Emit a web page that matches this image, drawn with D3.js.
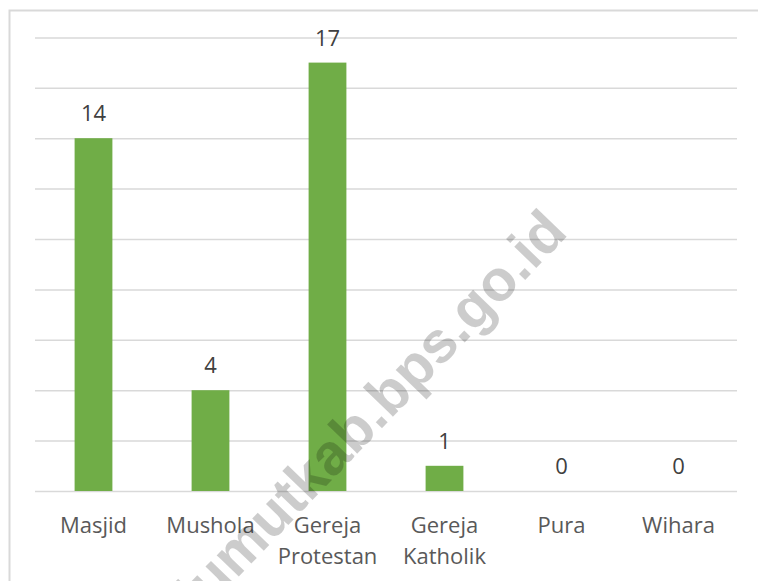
<!DOCTYPE html>
<html>
<head>
<meta charset="utf-8">
<script src="https://cdn.jsdelivr.net/npm/d3@7"></script>
<style>
  body { margin: 0; background: #fff; }
  text { font-family: "Open Sans", "DejaVu Sans", sans-serif; }
</style>
</head>
<body>
<div id="vis"></div>
<script>
// chart data
const categories = ['Masjid', 'Mushola', 'Gereja Protestan', 'Gereja Katholik', 'Pura', 'Wihara']
const counts = [14, 4, 17, 1, 0, 0]
const gridTicks = [0, 2, 4, 6, 8, 10, 12, 14, 16, 18]
const watermark = 'lumutkab.bps.go.id'

const W = 758, H = 581
const plot = { left: 35, right: 737, top: 37.4, bottom: 491 }

const svg = d3.select('#vis')
    .append('svg')
    .attr('width', W)
    .attr('height', H)

// outer frame (cut off at right / bottom like the screenshot)
svg.append('rect')
    .attr('x', 9.5).attr('y', 10.5)
    .attr('width', 800).attr('height', 700)
    .attr('fill', 'none')
    .attr('stroke', '#d9d9d9')
    .attr('stroke-width', 2)

const xScale = d3.scaleBand()
    .domain(categories)
    .range([plot.left, plot.right])
    .paddingInner(0.677)
    .paddingOuter(0.3385)

const yScale = d3.scaleLinear()
    .domain([0, 18])
    .range([plot.bottom, plot.top])

// gridlines
svg.append('g')
    .attr('class', 'grid')
    .attr('transform', `translate(${plot.left},0)`)
    .call(d3.axisLeft(yScale).tickValues(gridTicks).tickSize(-(plot.right - plot.left)).tickFormat(''))
    .call(g => g.select('.domain').remove())
    .call(g => g.selectAll('line').attr('stroke', '#d9d9d9').attr('stroke-width', 1.5))

const data = categories.map((c, i) => ({ cat: c, val: counts[i] }))

// bars
svg.selectAll('.bar')
    .data(data)
    .join('rect')
    .attr('class', 'bar')
    .attr('x', d => xScale(d.cat))
    .attr('y', d => yScale(d.val))
    .attr('width', xScale.bandwidth())
    .attr('height', d => yScale(0) - yScale(d.val))
    .attr('fill', '#70ad47')

// value labels
svg.selectAll('.val')
    .data(data)
    .join('text')
    .attr('class', 'val')
    .attr('x', d => xScale(d.cat) + xScale.bandwidth() / 2)
    .attr('y', d => yScale(d.val) - 17)
    .attr('text-anchor', 'middle')
    .attr('font-size', 22)
    .attr('fill', '#404040')
    .text(d => d.val)

// category labels, wrapped on space
const xAxis = svg.append('g')
    .attr('transform', `translate(0,${plot.bottom})`)
    .call(d3.axisBottom(xScale).tickSize(0).tickPadding(0))
xAxis.select('.domain').remove()
xAxis.selectAll('.tick text').each(function (d) {
    const t = d3.select(this)
    t.text(null)
        .attr('y', 42)
        .attr('dy', null)
        .attr('font-size', 22)
        .attr('font-family', '"Open Sans", sans-serif')
        .attr('fill', '#595959')
    d.split(' ').forEach((w, i) => {
        t.append('tspan').attr('x', 0).attr('dy', i ? 31 : 0).text(w)
    })
})

// watermark
svg.append('text')
    .attr('transform', 'translate(370,411) rotate(-46)')
    .attr('text-anchor', 'middle')
    .attr('dominant-baseline', 'central')
    .style('font-family', '"Liberation Sans", Arial, sans-serif')
    .style('font-weight', 'bold')
    .style('font-size', '58px')
    .attr('fill', '#000')
    .attr('fill-opacity', 0.2)
    .text(watermark)
</script>
</body>
</html>
